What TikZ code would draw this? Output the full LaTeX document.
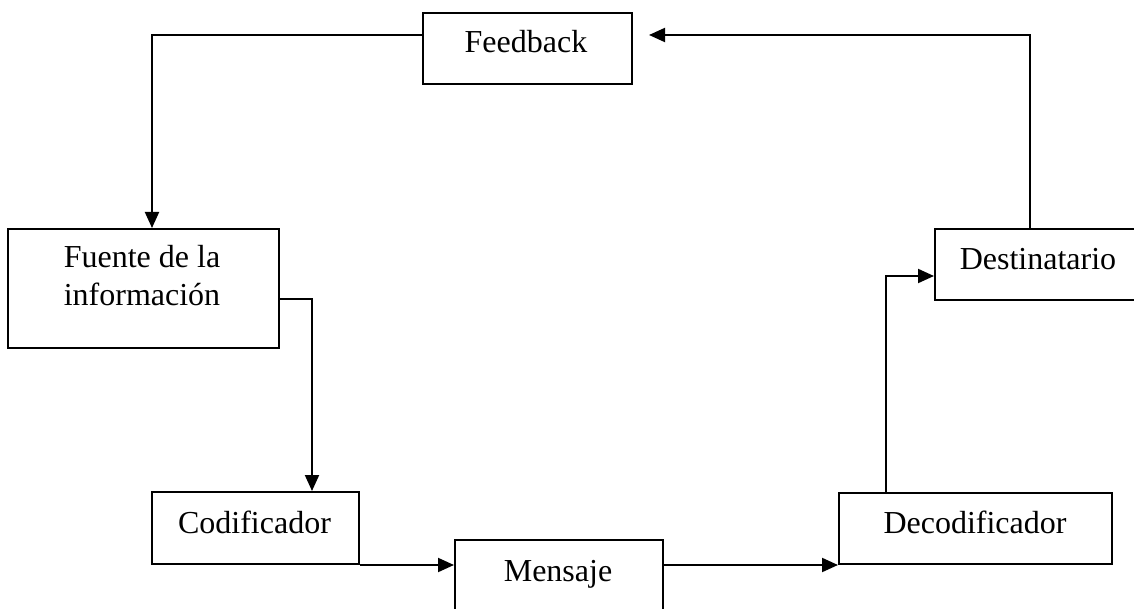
\documentclass[tikz,border=0pt]{standalone}
\usepackage{fontspec}
\setmainfont{Liberation Serif}
\usetikzlibrary{arrows.meta}
\begin{document}
\begin{tikzpicture}[x=1pt,y=-1pt,
  box/.style={draw, line width=2pt, inner sep=0pt, anchor=north west},
  lbl/.style={inner sep=0pt, font=\fontsize{32}{38}\selectfont},
  conn/.style={line width=2pt},
  arr/.style={conn, -{Triangle[length=16pt,width=14pt]}}]
\useasboundingbox (0,0) rectangle (1134,609);
\clip (0,0) rectangle (1134,609);
% boxes
\node[box, minimum width=209pt, minimum height=71pt] (fb) at (422,12) {};
\node[box, minimum width=271pt, minimum height=119pt] (src) at (7,228) {};
\node[box, minimum width=205pt, minimum height=71pt] (dst) at (934,228) {};
\node[box, minimum width=207pt, minimum height=72pt] (cod) at (151,491) {};
\node[box, minimum width=208pt, minimum height=90pt] (msg) at (454,539) {};
\node[box, minimum width=273pt, minimum height=71pt] (dec) at (838,492) {};
% labels
\node[lbl, anchor=base] (fbt) at (526,53) {Feedback};
\node[lbl, align=center] (srct) at (142,276) {Fuente de la\\información};
\node[lbl, anchor=base] (dstt) at (1038,270) {Destinatario};
\node[lbl, anchor=base] (codt) at (254.5,533) {Codificador};
\node[lbl, anchor=base] (msgt) at (558,581) {Mensaje};
\node[lbl, anchor=base] (dect) at (975,533) {Decodificador};
% connectors
\coordinate (fbin) at ([xshift=16pt,yshift=-23pt]fb.north east);
\draw[arr] ([yshift=-23pt]fb.north west) -| ([xshift=8.5pt]src.north);
\draw[arr] ([yshift=-71pt]src.north east) -| ([xshift=56.5pt]cod.north);
\draw[arr] (cod.south east) -- (cod.south east -| msg.west);
\draw[arr] (msg.east |- dec.south west) -- (dec.south west);
\draw[arr] ([xshift=48pt]dec.north west) |- ([yshift=-48pt]dst.north west);
\draw[arr] ([xshift=96pt]dst.north west) |- (fbin);
\end{tikzpicture}
\end{document}
